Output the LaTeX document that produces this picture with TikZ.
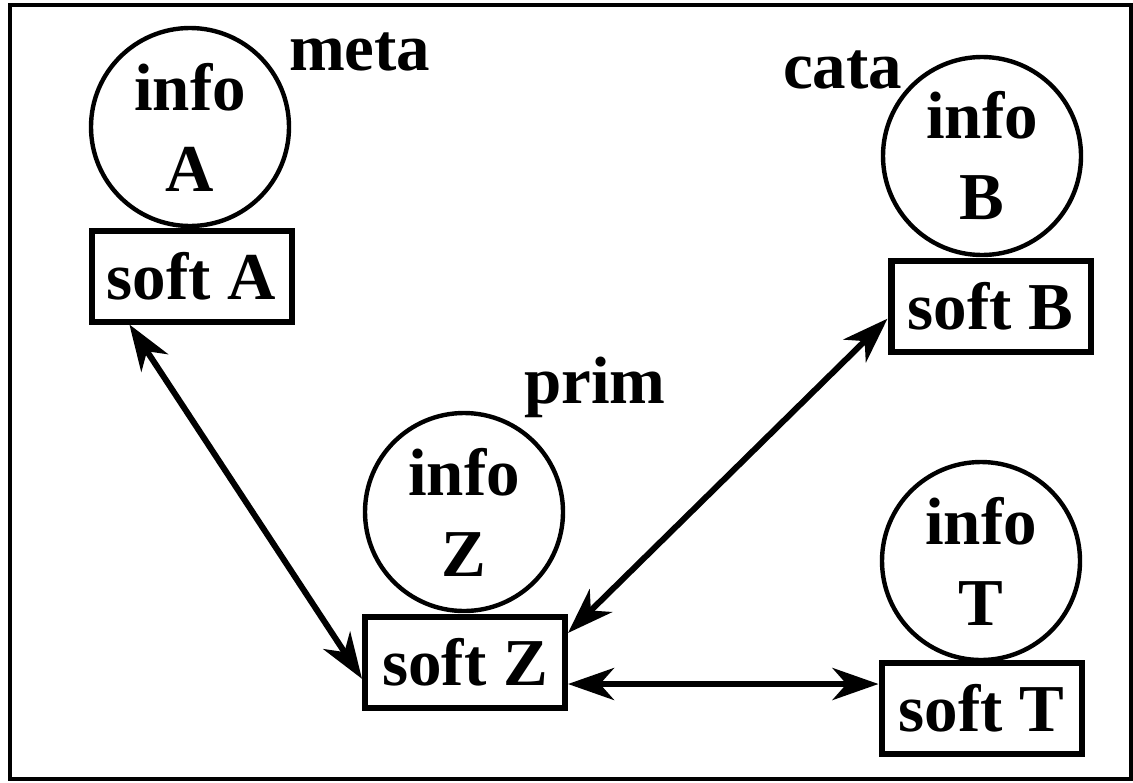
\documentclass[tikz,border=0pt]{standalone}
\usepackage{fontspec}
\setmainfont{Liberation Serif}
\usetikzlibrary{arrows.meta}
\begin{document}
\begin{tikzpicture}[x=0.5pt,y=-0.5pt,line join=miter,
  font=\fontsize{33.5}{40.5}\selectfont\bfseries,
  info/.style={circle,draw,line width=2.2pt,minimum size=99pt,inner sep=0pt,align=center},
  soft/.style={rectangle,draw,line width=3pt,minimum width=100pt,minimum height=45.5pt,inner sep=0pt},
  link/.style={line width=3pt,{Stealth[length=23pt,width=16pt,inset=7pt]}-{Stealth[length=23pt,width=16pt,inset=7pt]}}]
\useasboundingbox (0,0) rectangle (1133,782);
\draw[line width=2pt] (10,5) rectangle (1131,779);
% information and software pairs
\node[info] (infoA) at (190,127) {info\\A};
\node[soft] (softA) at (191.5,276) {soft A};
\node[info] (infoB) at (982,156) {info\\B};
\node[soft] (softB) at (990.5,306) {soft B};
\node[info] (infoZ) at (464,512) {info\\Z};
\node[soft] (softZ) at (465,662.5) {soft Z};
\node[info] (infoT) at (981,561) {info\\T};
\node[soft] (softT) at (981.5,708.5) {soft T};
\draw[line width=0.6pt] ([xshift=3.5pt,yshift=-1.5pt]softB.north west) -- ([xshift=3.5pt,yshift=1.5pt]softB.south west);
% roles
\node[anchor=base west] (meta) at (282,70) {meta};
\node[anchor=base west] (cata) at (776,88) {cata};
\node[anchor=base west] (prim) at (517,403) {prim};
% links
\draw[link] (softA.218) -- (softZ.189.5);
\draw[link] (softB.187) -- (softZ.16);
\draw[link] ([yshift=-10.75pt]softZ.east) -- ([yshift=-10.75pt]softZ.east -| softT.west);
\end{tikzpicture}
\end{document}
